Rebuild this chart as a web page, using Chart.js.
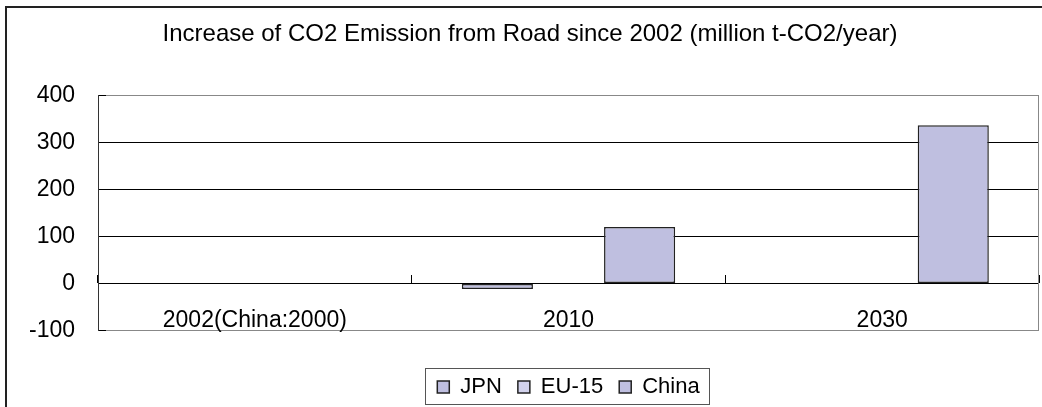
<!DOCTYPE html>
<html>
<head>
<meta charset="utf-8">
<script src="https://cdn.jsdelivr.net/npm/chart.js@4"></script>
<style>
  html, body { margin: 0; padding: 0; background: #fff; overflow: hidden; }
  #wrap { position: relative; width: 1042px; height: 407px; }
  #frame { position: absolute; left: 5px; top: 6px; width: 1100px; height: 500px; border: 2px solid #222; box-sizing: border-box; pointer-events: none; }
  #myChart { position: absolute; left: 0; top: 0; }
</style>
</head>
<body>
<div id="wrap">
  <canvas id="myChart" width="1042" height="407"></canvas>
  <div id="frame"></div>
</div>
<script>
const YEARS = ["2002(China:2000)", "2010", "2030"];
const JPN = [0, -12, null];
const EU15 = [0, null, null];
const CHINA = [0, 120, 337];
const Y_MIN = -100;
const Y_MAX = 400;
const Y_STEP = 100;

const FONT = "'Liberation Sans', Arial, sans-serif";

// 범례 테두리
const legendBox = {
  id: "legendBox",
  afterDraw(chart) {
    const boxes = chart.legend.legendHitBoxes;
    if (!boxes || !boxes.length) return;
    const left = Math.min(...boxes.map(b => b.left)) - 12;
    const right = Math.max(...boxes.map(b => b.left + b.width)) + 10;
    const mid = boxes[0].top + boxes[0].height / 2;
    const ctx = chart.ctx;
    ctx.save();
    ctx.strokeStyle = "#555";
    ctx.lineWidth = 1;
    ctx.strokeRect(Math.round(left) + 0.5, Math.round(mid - 19) + 0.5, Math.round(right - left), 36);
    ctx.restore();
  }
};

// 플롯 오른쪽 테두리
const plotEdge = {
  id: "plotEdge",
  beforeDatasetsDraw(chart) {
    const a = chart.chartArea;
    const ctx = chart.ctx;
    ctx.save();
    ctx.strokeStyle = "#888";
    ctx.lineWidth = 1;
    ctx.beginPath();
    ctx.moveTo(Math.round(a.right) - 0.5, a.top);
    ctx.lineTo(Math.round(a.right) - 0.5, a.bottom);
    ctx.stroke();
    ctx.restore();
  }
};

const barStyle = {
  borderColor: "#222",
  borderWidth: 1.5,
  borderSkipped: false,
  categoryPercentage: 0.68,
  barPercentage: 1.0
};

const chartData = {
  labels: YEARS,
  datasets: [
    { label: "JPN", data: JPN, backgroundColor: "#BFBFE0", ...barStyle },
    { label: "EU-15", data: EU15, backgroundColor: "#D2D2EC", ...barStyle },
    { label: "China", data: CHINA, backgroundColor: "#BFBFE0", ...barStyle }
  ]
};

const config = {
  type: "bar",
  data: chartData,
  plugins: [legendBox, plotEdge],
  options: {
    responsive: false,
    animation: false,
    layout: { padding: { left: 21, right: 3, top: 0, bottom: -1 } },
    plugins: {
      title: {
        display: true,
        text: "Increase of CO2 Emission from Road since 2002 (million t-CO2/year)",
        color: "#000",
        font: { family: FONT, size: 24, weight: "normal" },
        padding: { top: 20, bottom: 47 }
      },
      legend: {
        position: "bottom",
        fullSize: false,
        title: { display: true, text: "", font: { size: 1 }, padding: { top: 28.5, bottom: 0 } },
        labels: {
          color: "#000",
          font: { family: FONT, size: 22 },
          boxWidth: 12,
          boxHeight: 12,
          padding: 16
        }
      },
      tooltip: { enabled: false }
    },
    scales: {
      x: {
        type: "category",
        position: { y: 0 },
        offset: true,
        border: { display: false },
        grid: {
          offset: true,
          drawOnChartArea: false,
          drawTicks: true,
          tickLength: -8,
          color: "#000",
          tickColor: "#000"
        },
        ticks: {
          color: "#000",
          font: { family: FONT, size: 23 },
          padding: 31,
          maxRotation: 0,
          autoSkip: false
        }
      },
      y: {
        min: Y_MIN,
        max: Y_MAX,
        afterFit: s => { s.width = 77; },
        border: { display: true, color: "#333", width: 1 },
        grid: {
          color: c => (c.tick && (c.tick.value === Y_MAX || c.tick.value === Y_MIN)) ? "#888" : "#000",
          tickColor: "#000",
          tickLength: -8,
          lineWidth: 1
        },
        ticks: {
          stepSize: Y_STEP,
          color: "#000",
          font: { family: FONT, size: 23 },
          padding: 31
        }
      }
    }
  }
};

// 차트 생성
const myChart = new Chart(document.getElementById("myChart"), config);
</script>
</body>
</html>
